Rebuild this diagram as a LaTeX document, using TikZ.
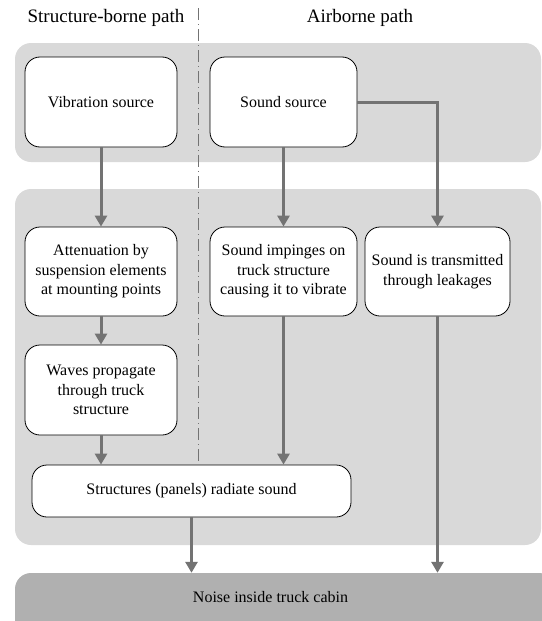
\documentclass[tikz,border=0pt]{standalone}
\usepackage{fontspec}
\setmainfont{Liberation Serif}
\usetikzlibrary{arrows.meta}
\definecolor{panelgray}{HTML}{D9D9D9}
\definecolor{cabingray}{HTML}{B0B0B0}
\definecolor{arrowgray}{HTML}{737373}
\begin{document}
\begin{tikzpicture}[x=1pt,y=-1pt,
  panel/.style={fill=panelgray, draw=none, rounded corners=16pt},
  stepbox/.style={draw=black, line width=0.8pt, fill=white, rounded corners=15pt,
    align=center, font=\fontsize{16}{19.5}\selectfont, inner sep=0pt},
  flow/.style={draw=arrowgray, line width=3pt, -{Triangle[length=11pt,width=12pt]}},
  header/.style={font=\fontsize{19}{22}\selectfont, inner sep=0pt}]
\useasboundingbox (0,0) rectangle (541,621);
% panels
\fill[panel] (15,43) rectangle (541,162);
\fill[panel] (15,189) rectangle (541,545);
\node[fill=cabingray, rounded corners=16pt, minimum width=540pt, minimum height=64pt,
  inner sep=0pt] (noise) at (285,605) {};
\node[font=\fontsize{16}{19.5}\selectfont] (noisetext) at (270.5,597.5) {Noise inside truck cabin};
% headers
\node[header] (hstruct) at (106,18) {Structure-borne path};
\node[header] (hair) at (360,18) {Airborne path};
% divider
\coordinate (dtop) at (198,8);
\coordinate (dbot) at (198,465);
\draw[arrowgray, line width=0.8pt, dash pattern=on 12pt off 4pt on 1pt off 4pt] (dtop) -- (dbot);
% boxes
\node[stepbox, minimum width=152pt, minimum height=90pt] (vib) at (101,102) {Vibration source};
\node[stepbox, minimum width=147pt, minimum height=90pt] (snd) at (283.5,102) {Sound source};
\node[stepbox, minimum width=152pt, minimum height=89pt] (att) at (101,271.5)
  {Attenuation by\\suspension elements\\at mounting points};
\node[stepbox, minimum width=147pt, minimum height=89pt] (imp) at (283.5,271.5)
  {Sound impinges on\\truck structure\\causing it to vibrate};
\node[stepbox, minimum width=145pt, minimum height=89pt] (leak) at (437.5,271.5)
  {Sound is transmitted\\through leakages};
\node[stepbox, minimum width=152pt, minimum height=90pt] (wav) at (101,390)
  {Waves propagate\\through truck\\structure};
\node[stepbox, minimum width=319pt, minimum height=52pt] (rad) at (191.5,491)
  {Structures (panels) radiate sound};
% arrows
\draw[flow] (vib) -- (att);
\draw[flow] (snd) -- (imp);
\draw[flow] (snd.east) -| (leak.north);
\draw[flow] (att) -- (wav);
\draw[flow] (wav.south) -- (wav.south |- rad.north);
\draw[flow] (imp.south) -- (imp.south |- rad.north);
\draw[flow] (rad.south) -- (rad.south |- noise.north);
\draw[flow] (leak.south) -- (leak.south |- noise.north);
\end{tikzpicture}
\end{document}
